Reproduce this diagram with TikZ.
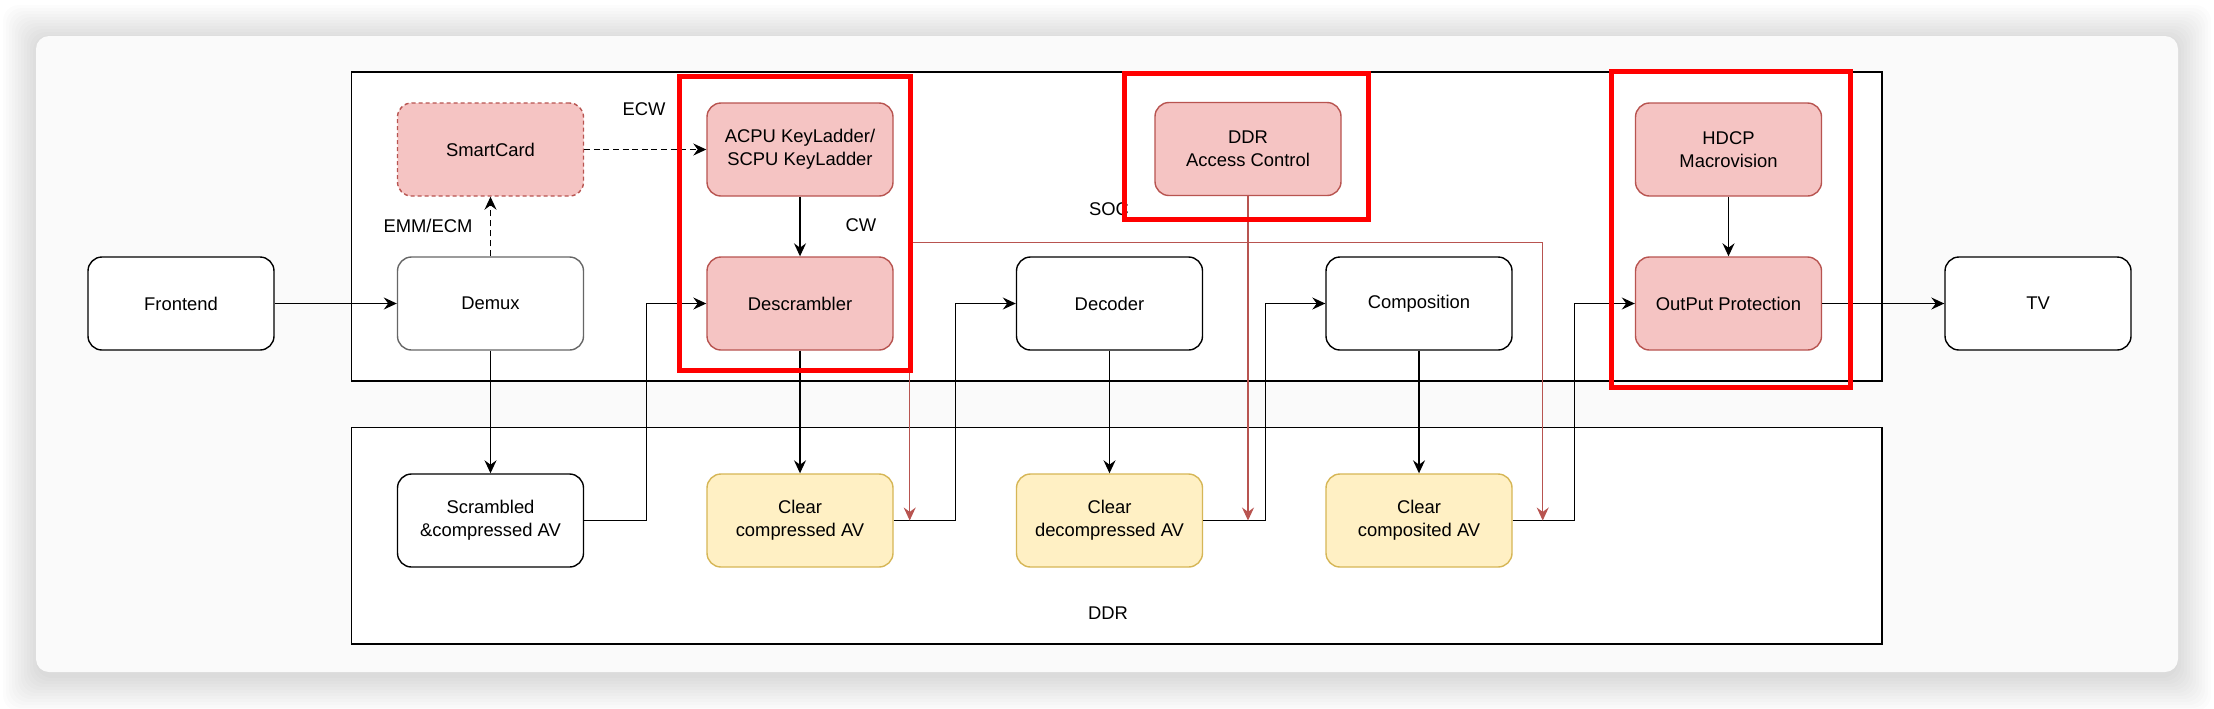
\documentclass[tikz,border=0pt]{standalone}
\usepackage{fontspec}
\setmainfont{Liberation Sans}
\usetikzlibrary{positioning,arrows.meta}
\definecolor{pinkfill}{HTML}{F5C4C3}
\definecolor{redline}{HTML}{B85450}
\definecolor{creamfill}{HTML}{FFF0C4}
\definecolor{goldline}{HTML}{D6B656}
\definecolor{hotred}{HTML}{FF0000}
\definecolor{cardbg}{HTML}{FAFAFA}

\begin{document}
\begin{tikzpicture}[>={Stealth[length=6.5pt,width=6pt,inset=2.2pt]}, node distance=29.8pt and 61.05pt,
    every node/.style={font=\fontsize{9.2}{11.6}\selectfont},
    box/.style={draw, rounded corners=7pt, fill=white, minimum width=93pt, minimum height=46.5pt, align=center, line width=0.7pt},
    keybox/.style={box, draw=redline, fill=pinkfill},
    membox/.style={box, draw=goldline, fill=creamfill},
    flow/.style={->, line width=0.7pt},
    guard/.style={->, draw=redline, line width=0.55pt},
    zone/.style={draw=hotred, line width=2.5pt}]
  \fill[white] (0,0) rectangle (1107pt,-354pt);
  \useasboundingbox (0,0) rectangle (1107pt,-354pt);
  \foreach \s in {0,1.5,...,16.5}
    \fill[black, opacity=0.012, rounded corners=8pt] (18pt-\s*1pt,-19pt+\s*1pt) rectangle (1089pt+\s*1pt,-339pt-\s*1pt);
  \fill[cardbg, rounded corners=6.5pt] (18pt,-18pt) rectangle (1089pt,-336pt);
  \draw[fill=white, line width=0.7pt] (175.75pt,-36pt) rectangle (941pt,-190.5pt);
  \draw[fill=white, line width=0.7pt] (175.75pt,-213.75pt) rectangle (941pt,-322pt);
  \node (soc) at (554.5pt,-104.5pt) {SOC};
  \node (ddr) at (554pt,-306.5pt) {DDR};

  \node[box] (front) at (90.5pt,-151.75pt) {Frontend};
  \node[box, draw=black!60, right=of front] (demux) {Demux};
  \node[keybox, right=of demux] (descr) {Descrambler};
  \node[box, right=of descr] (decoder) {Decoder};
  \node[box, right=of decoder] (compo) {Composition};
  \node[keybox, right=of compo] (outprot) {OutPut Protection};
  \node[box, right=of outprot] (tv) {TV};
  \node[keybox, dash pattern=on 2pt off 1.5pt, above=of demux] (smart) {SmartCard};
  \node[keybox, above=of descr] (keyl) {ACPU KeyLadder/\\SCPU KeyLadder};
  \node[keybox, above=of outprot] (hdcp) {HDCP\\Macrovision};
  \node[keybox] (ddrac) at (624pt,-74.5pt) {DDR\\Access Control};
  \node[box, below=61.3pt of demux] (scram) {Scrambled\\\&compressed AV};
  \node[membox, below=61.3pt of descr] (clrcomp) {Clear\\compressed AV};
  \node[membox, below=61.3pt of decoder] (clrdec) {Clear\\decompressed AV};
  \node[membox, below=61.3pt of compo] (clrcmps) {Clear\\composited AV};

  \node (ecw) at (322pt,-54.5pt) {ECW};
  \node (cw) at (430.5pt,-112.5pt) {CW};
  \node (emm) at (214pt,-113pt) {EMM/ECM};

  \draw[flow] (front) -- (demux);
  \draw[flow] (demux) -- (scram);
  \draw[flow, dash pattern=on 3pt off 2pt] (demux) -- (smart);
  \draw[flow, dash pattern=on 3pt off 1.8pt] (smart) -- (keyl);
  \draw[flow] (keyl) -- (descr);
  \draw[flow] (descr) -- (clrcomp);
  \draw[flow] (scram.east) -- ++(31pt,0) |- (descr.west);
  \draw[flow] (clrcomp.east) -- ++(31pt,0) |- (decoder.west);
  \draw[flow] (decoder) -- (clrdec);
  \draw[flow] (clrdec.east) -- ++(31pt,0) |- (compo.west);
  \draw[flow] (compo) -- (clrcmps);
  \draw[flow] (clrcmps.east) -- ++(31pt,0) |- (outprot.west);
  \draw[flow] (hdcp) -- (outprot);
  \draw[flow] (outprot) -- (tv);

  \coordinate (hit1) at ([xshift=8pt]clrcomp.east);
  \coordinate (hit2) at (ddrac.south |- clrdec.east);
  \coordinate (hit3) at ([xshift=15pt]clrcmps.east);
  \draw[guard] (ddrac.south) -- (hit2);
  \draw[guard] (ddrac.south) -- ++(0,-23pt) -| (hit1);
  \draw[guard] (ddrac.south) -- ++(0,-23pt) -| (hit3);

  \draw[zone] (339.75pt,-38.25pt) rectangle (455.25pt,-185.25pt);
  \draw[zone] (562.25pt,-36.75pt) rectangle (684.25pt,-109.75pt);
  \draw[zone] (805.75pt,-35.75pt) rectangle (925.25pt,-193.75pt);
\end{tikzpicture}
\end{document}
